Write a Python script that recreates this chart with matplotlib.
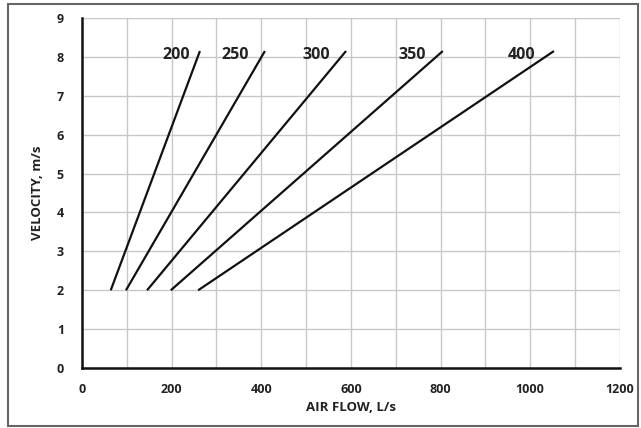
import matplotlib
matplotlib.use("Agg")
import matplotlib.pyplot as plt
from matplotlib.patches import Rectangle

plt.rcParams['font.family'] = ['Open Sans', 'DejaVu Sans']

# Data
duct_sizes = ["200", "250", "300", "350", "400"]
flow_low = [64, 98, 145, 198, 259]       # L/s at 2 m/s
flow_high = [263, 408, 589, 805, 1053]   # L/s at top of line
vel_low = 2.0
vel_high = 8.15
label_x = [210, 341, 522, 736, 981]
label_y = 8.05

x_ticks = [0, 200, 400, 600, 800, 1000, 1200]
y_ticks = list(range(0, 10))

fig = plt.figure(figsize=(6.41, 4.28), dpi=100)
ax = fig.add_axes([0.128, 0.140, 0.839, 0.818])

for lo, hi in zip(flow_low, flow_high):
    ax.plot([lo, hi], [vel_low, vel_high], color='#111111', lw=1.6, solid_capstyle='butt')

for name, lx in zip(duct_sizes, label_x):
    ax.text(lx, label_y, name, ha='center', va='center', fontsize=11.5,
            fontweight='bold', color='#222222')

ax.set_xlim(0, 1200)
ax.set_ylim(0, 9)
ax.set_xticks(x_ticks)
ax.set_xticks(range(0, 1201, 100), minor=True)
ax.set_yticks(y_ticks)
ax.grid(True, which='both', color='#c8c8c8', lw=1.0)
ax.set_axisbelow(True)
ax.tick_params(which='both', length=0)
ax.tick_params(axis='x', pad=11)
ax.tick_params(axis='y', pad=13)
for lab in ax.get_xticklabels() + ax.get_yticklabels():
    lab.set_fontweight('bold')
    lab.set_fontsize(9)
    lab.set_color('#222222')

for s in ['top', 'right']:
    ax.spines[s].set_visible(False)
for s in ['left', 'bottom']:
    ax.spines[s].set_color('#111111')
    ax.spines[s].set_linewidth(1.8)

ax.set_xlabel('AIR FLOW, L/s', fontsize=9.5, fontweight='bold', color='#222222', labelpad=3)
ax.set_ylabel('VELOCITY, m/s', fontsize=9.5, fontweight='bold', color='#222222', labelpad=9)

fig.patches.append(Rectangle((8/641, 2/428), 630/641, 422/428, transform=fig.transFigure,
                             fill=False, edgecolor='#666666', lw=1.5))

fig.savefig('out.png', dpi=100)
